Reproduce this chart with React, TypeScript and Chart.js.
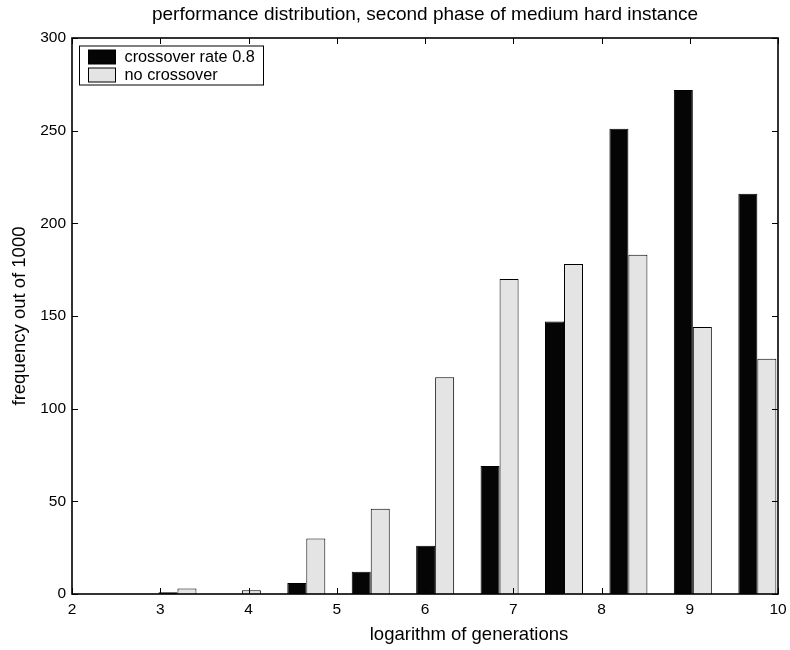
import React, { useEffect, useRef } from 'react';
import { Chart, registerables } from 'chart.js';

Chart.register(...registerables);

// ---- data ----
const binCenters = [3.195, 3.925, 4.655, 5.385, 6.115, 6.845, 7.575, 8.305, 9.035, 9.766];
const crossoverValues = [1, 0, 6, 12, 26, 69, 147, 251, 272, 216];
const noCrossoverValues = [3, 2, 30, 46, 117, 170, 178, 183, 144, 127];
const seriesLabels = ['crossover rate 0.8', 'no crossover'];
const seriesColors = ['#050505', '#e4e4e4'];
const xRange = [2, 10];
const yRange = [0, 300];
const xStep = 1;
const yStep = 50;
const titleText = 'performance distribution, second phase of medium hard instance';
const xTitle = 'logarithm of generations';
const yTitle = 'frequency out of 1000';

const FONT = '"Liberation Sans", Arial, Helvetica, sans-serif';

const boxPlugin = {
  id: 'matlabBox',
  afterDatasetsDraw(chart: any) {
    const { ctx, chartArea } = chart;
    const { left, right, top, bottom } = chartArea;
    const xs = chart.scales.x;
    const ys = chart.scales.y;
    const tl = 6;
    ctx.save();
    ctx.strokeStyle = '#000';
    ctx.lineWidth = 1;
    ctx.beginPath();
    xs.ticks.forEach((t: any) => {
      const px = Math.round(xs.getPixelForValue(t.value)) + 0.5;
      ctx.moveTo(px, bottom);
      ctx.lineTo(px, bottom - tl);
      ctx.moveTo(px, top);
      ctx.lineTo(px, top + tl);
    });
    ys.ticks.forEach((t: any) => {
      const py = Math.round(ys.getPixelForValue(t.value)) + 0.5;
      ctx.moveTo(left, py);
      ctx.lineTo(left + tl, py);
      ctx.moveTo(right, py);
      ctx.lineTo(right - tl, py);
    });
    ctx.stroke();
    ctx.lineWidth = 1.6;
    ctx.strokeRect(left, top, right - left, bottom - top);
    ctx.restore();
  },
  afterDraw(chart: any) {
    const { ctx, chartArea } = chart;
    const lx = chartArea.left + 7.5;
    const ly = chartArea.top + 8;
    const w = 184;
    const h = 39;
    ctx.save();
    ctx.fillStyle = '#fff';
    ctx.fillRect(lx, ly, w, h);
    ctx.strokeStyle = '#000';
    ctx.lineWidth = 1;
    ctx.strokeRect(lx, ly, w, h);
    ctx.font = '16.3px ' + FONT;
    ctx.textBaseline = 'middle';
    ctx.textAlign = 'left';
    chart.data.datasets.forEach((ds: any, i: number) => {
      const sy = ly + 4 + i * 18;
      ctx.fillStyle = ds.backgroundColor;
      ctx.fillRect(lx + 9, sy, 27, 14);
      ctx.strokeStyle = '#000';
      ctx.strokeRect(lx + 9, sy, 27, 14);
      ctx.fillStyle = '#000';
      ctx.fillText(ds.label, lx + 45, sy + 7.5);
    });
    // x-axis label (offset to the right as in the reference)
    ctx.font = '18.5px ' + FONT;
    ctx.textAlign = 'center';
    ctx.textBaseline = 'middle';
    ctx.fillText(xTitle, 469, 635);
    ctx.restore();
  },
};

export default function App() {
  const ref = useRef<HTMLCanvasElement | null>(null);
  useEffect(() => {
    if (!ref.current) return;
    Chart.defaults.font.family = FONT;
    Chart.defaults.color = '#000';
    const mk = (vals: number[]) => vals.map((v, i) => ({ x: binCenters[i], y: v }));
    const chart = new Chart(ref.current, {
      type: 'bar',
      data: {
        datasets: [
          {
            label: seriesLabels[0],
            data: mk(crossoverValues),
            backgroundColor: seriesColors[0],
            borderColor: '#000',
            borderWidth: 1,
            barPercentage: 1,
            categoryPercentage: 0.59,
          },
          {
            label: seriesLabels[1],
            data: mk(noCrossoverValues),
            backgroundColor: seriesColors[1],
            borderColor: '#000',
            borderWidth: 1,
            barPercentage: 1,
            categoryPercentage: 0.59,
          },
        ],
      },
      options: {
        responsive: false,
        animation: false,
        layout: { padding: { left: 0, right: 12, top: 0, bottom: 0 } },
        plugins: {
          legend: { display: false },
          tooltip: { enabled: false },
          title: {
            display: true,
            fullSize: false,
            text: titleText,
            font: { size: 19, weight: 'normal', family: FONT },
            color: '#000',
            padding: { top: 3.6, bottom: 11.6 },
          },
        },
        scales: {
          x: {
            type: 'linear',
            min: xRange[0],
            max: xRange[1],
            offset: false,
            grid: { display: false, drawTicks: false, offset: false },
            border: { display: false },
            ticks: { stepSize: xStep, padding: 6, font: { size: 15.5 }, color: '#000', maxRotation: 0 },
            title: { display: false, text: xTitle },
            afterFit: (s: any) => {
              s.height = 56;
              s.paddingLeft = 0;
              s.paddingRight = 0;
            },
          },
          y: {
            min: yRange[0],
            max: yRange[1],
            grid: { display: false, drawTicks: false },
            border: { display: false },
            ticks: { stepSize: yStep, padding: 6, font: { size: 15.5 }, color: '#000' },
            title: {
              display: true,
              text: yTitle,
              font: { size: 18.5 },
              color: '#000',
              padding: { top: 8.4, bottom: 0 },
            },
            afterFit: (s: any) => {
              s.width = 72;
              s.paddingTop = 0;
              s.paddingBottom = 0;
            },
          },
        },
      },
      plugins: [boxPlugin],
    } as any);
    return () => chart.destroy();
  }, []);
  return (
    <div style={{ position: 'absolute', left: 0, top: 0, width: 790, height: 650, background: '#fff' }}>
      <canvas ref={ref} width={790} height={650} />
    </div>
  );
}
